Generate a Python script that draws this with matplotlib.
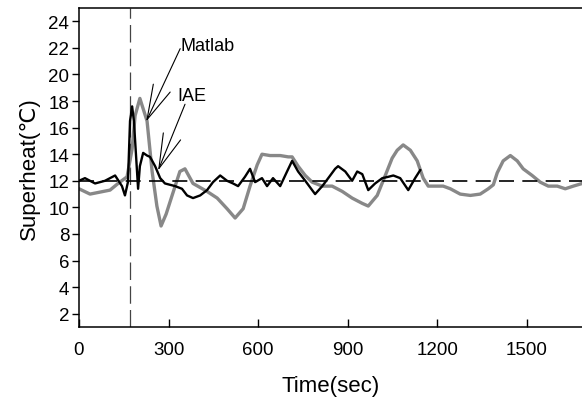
import matplotlib
matplotlib.use("Agg")
from matplotlib import pyplot as plt

# Matlab response (gray)
t_matlab = [0, 37, 104, 131, 161, 178, 188, 204, 228, 245, 261, 275, 292, 312, 338, 355,
            382, 429, 463, 496, 523, 550, 573, 597, 613, 640, 674, 701, 714, 734, 758, 781,
            815, 848, 882, 915, 949, 969, 999, 1026, 1049, 1066, 1086, 1110, 1133, 1153, 1170,
            1200, 1220, 1244, 1277, 1311, 1344, 1371, 1388, 1401, 1421, 1445, 1468, 1488, 1518,
            1545, 1572, 1602, 1629, 1656, 1686]
v_matlab = [11.4, 11.0, 11.3, 11.8, 12.3, 14.4, 16.9, 18.2, 16.5, 12.7, 10.1, 8.6, 9.5, 10.9, 12.7, 12.9,
            11.8, 11.2, 10.7, 9.9, 9.2, 9.9, 11.6, 13.2, 14.0, 13.9, 13.9, 13.8, 13.8, 13.1, 12.4, 11.9,
            11.6, 11.6, 11.2, 10.7, 10.3, 10.1, 10.9, 12.4, 13.7, 14.3, 14.7, 14.3, 13.5, 12.2, 11.6,
            11.6, 11.6, 11.4, 11.0, 10.9, 11.0, 11.4, 11.7, 12.6, 13.5, 13.9, 13.5, 12.9, 12.4,
            11.9, 11.6, 11.6, 11.4, 11.6, 11.8]

# IAE response (black)
t_iae = [0, 20, 54, 87, 121, 144, 154, 164, 171, 178, 184, 198, 204, 215, 228, 238, 255, 272,
         288, 322, 345, 362, 382, 406, 429, 449, 473, 496, 516, 533, 556, 573, 590, 613, 630,
         650, 674, 697, 714, 734, 758, 781, 791, 815, 835, 858, 868, 892, 915, 932, 949, 969,
         992, 1016, 1036, 1053, 1076, 1103, 1126, 1143]
v_iae = [12.0, 12.2, 11.8, 12.0, 12.4, 11.6, 10.9, 11.9, 16.5, 17.6, 16.5, 11.4, 13.1, 14.1, 13.9, 13.8, 13.1, 12.2,
         11.8, 11.6, 11.4, 10.9, 10.7, 10.9, 11.3, 11.9, 12.4, 12.0, 11.8, 11.6, 12.3, 12.9, 11.9, 12.2, 11.6,
         12.2, 11.6, 12.7, 13.5, 12.7, 12.0, 11.3, 11.0, 11.6, 12.2, 12.9, 13.1, 12.7, 12.0, 12.7, 12.5, 11.3,
         11.8, 12.2, 12.3, 12.4, 12.2, 11.3, 12.2, 12.8]

setpoint = 12
t_step = 171
xticks = [0, 300, 600, 900, 1200, 1500]
yticks = list(range(2, 25, 2))

plt.rcParams['font.family'] = ['Liberation Sans', 'DejaVu Sans']

fig = plt.figure(figsize=(5.82, 4.10), dpi=100)
ax = fig.add_axes([0.1357, 0.2, 0.8643, 0.778])

ax.plot(t_matlab, v_matlab, color='#888888', lw=2.4, zorder=2)
ax.plot(t_iae, v_iae, color='black', lw=1.7, zorder=3)
ax.axhline(setpoint, color='black', lw=1.2, dashes=(9, 5), zorder=4)
ax.axvline(t_step, color='#444444', lw=0.9, dashes=(14, 5), zorder=1)

arrow = dict(arrowstyle='->, head_length=2.5, head_width=0.67', color='black', lw=0.8,
             mutation_scale=10, shrinkA=0, shrinkB=0, patchA=None)
ax.annotate('Matlab', xy=(225, 16.46), xytext=(339, 22.2), fontsize=13, va='center',
            arrowprops=dict(arrow, relpos=(0, 0.3)))
ax.annotate('IAE', xy=(265, 12.77), xytext=(328, 18.4), fontsize=13, va='center',
            arrowprops=dict(arrow, relpos=(0.28, 0)))

ax.set_xlim(0, 1685)
ax.set_ylim(1, 25)
ax.set_xticks(xticks)
ax.set_yticks(yticks)
ax.tick_params(axis='x', direction='in', length=6, width=1, pad=10, labelsize=13.5)
ax.tick_params(axis='y', direction='out', length=5, width=1, pad=2, labelsize=13.5)
ax.spines['right'].set_visible(False)
for s in ['left', 'top', 'bottom']:
    ax.spines[s].set_linewidth(1.1)

ax.set_xlabel('Time(sec)', fontsize=16, labelpad=12)
ax.set_ylabel('Superheat(\u2103)', fontsize=16, labelpad=6)

plt.savefig('out.png', dpi=100)
